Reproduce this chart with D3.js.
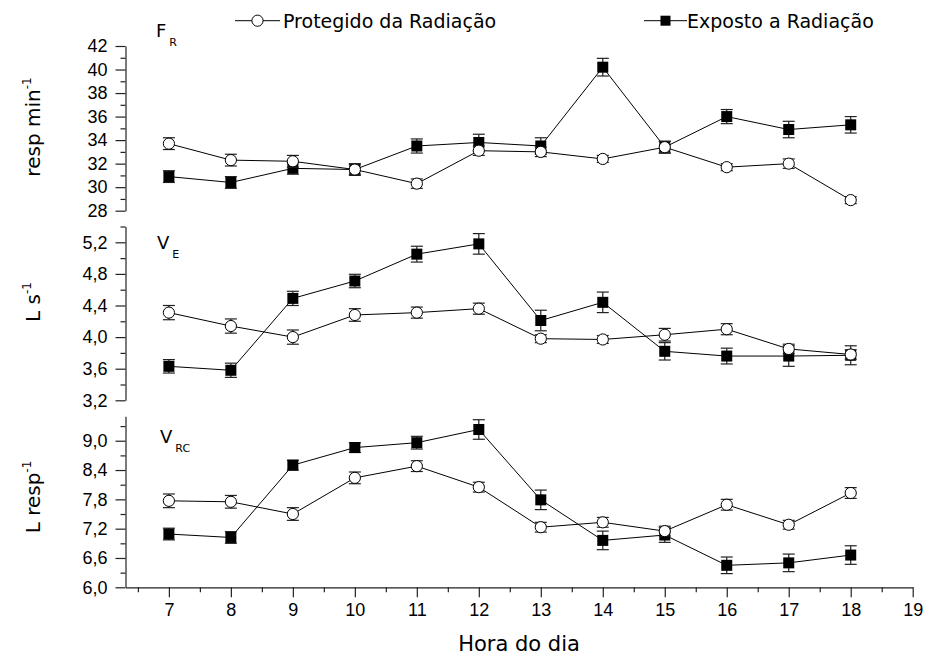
<!DOCTYPE html>
<html>
<head>
<meta charset="utf-8">
<script src="https://cdn.jsdelivr.net/npm/d3@7"></script>
<style>
  body { margin: 0; background: #fff; }
  svg { display: block; font-family: "DejaVu Sans", Arial, sans-serif; }
</style>
</head>
<body>
<script>
// hours of the day
const hours = [7, 8, 9, 10, 11, 12, 13, 14, 15, 16, 17, 18];

// F_R (resp min-1)
const frProt = [33.7, 32.3, 32.2, 31.5, 30.3, 33.1, 33.0, 32.4, 33.4, 31.7, 32.0, 28.9];
const frProtErr = [0.5, 0.5, 0.5, 0.4, 0.4, 0.4, 0.4, 0.3, 0.5, 0.3, 0.4, 0.3];
const frExp = [30.9, 30.4, 31.6, 31.5, 33.5, 33.8, 33.5, 40.2, 33.4, 36.0, 34.9, 35.3];
const frExpErr = [0.5, 0.5, 0.5, 0.5, 0.6, 0.7, 0.7, 0.75, 0.5, 0.6, 0.7, 0.7];

// V_E (L s-1)
const veProt = [4.31, 4.14, 4.00, 4.28, 4.31, 4.36, 3.98, 3.97, 4.03, 4.10, 3.85, 3.78];
const veProtErr = [0.09, 0.09, 0.09, 0.08, 0.07, 0.07, 0.05, 0.05, 0.08, 0.07, 0.06, 0.06];
const veExp = [3.63, 3.58, 4.49, 4.71, 5.05, 5.18, 4.21, 4.44, 3.82, 3.76, 3.76, 3.77];
const veExpErr = [0.085, 0.09, 0.09, 0.085, 0.1, 0.13, 0.13, 0.13, 0.11, 0.1, 0.13, 0.12];

// V_RC (L resp-1)
const vrcProt = [7.77, 7.75, 7.50, 8.24, 8.48, 8.05, 7.23, 7.33, 7.15, 7.69, 7.28, 7.93];
const vrcProtErr = [0.14, 0.13, 0.13, 0.12, 0.11, 0.1, 0.1, 0.1, 0.1, 0.11, 0.09, 0.11];
const vrcExp = [7.09, 7.02, 8.50, 8.86, 8.96, 9.23, 7.79, 6.96, 7.07, 6.45, 6.50, 6.66];
const vrcExpErr = [0.12, 0.12, 0.1, 0.1, 0.13, 0.2, 0.2, 0.19, 0.15, 0.17, 0.18, 0.19];

// tick labels
const xTicks = [7, 8, 9, 10, 11, 12, 13, 14, 15, 16, 17, 18, 19];
const frTicks = [28, 30, 32, 34, 36, 38, 40, 42];
const veTicks = [3.2, 3.6, 4.0, 4.4, 4.8, 5.2];
const vrcTicks = [6.0, 6.6, 7.2, 7.8, 8.4, 9.0];

const seriesNames = ["Protegido da Radiação", "Exposto a Radiação"];

const width = 925, height = 659;
const axisX = 125.5;

const svg = d3.select("body").append("svg")
    .attr("width", width)
    .attr("height", height);

const x = d3.scaleLinear().domain([6.3, 19]).range([axisX, 912.7]);

const comma = d => d.toFixed(1).replace(".", ",");

const panels = [
  { domain: [28, 42], range: [210.7, 46], ticks: frTicks, minor: d3.range(29, 42, 2), fmt: d3.format("d"),
    prot: frProt, protErr: frProtErr, exp: frExp, expErr: frExpErr,
    name: "F", sub: "R", nameX: 156, nameY: 37, unit: "resp min", unitY: 127 },
  { domain: [3.2, 5.4], range: [400.3, 226.5], ticks: veTicks, minor: d3.range(3.4, 5.45, 0.4), fmt: comma,
    prot: veProt, protErr: veProtErr, exp: veExp, expErr: veExpErr,
    name: "V", sub: "E", nameX: 157, nameY: 249, unit: "L s", unitY: 302 },
  { domain: [6.0, 9.5], range: [587.3, 416.3], ticks: vrcTicks, minor: d3.range(6.3, 9.45, 0.6), fmt: comma,
    prot: vrcProt, protErr: vrcProtErr, exp: vrcExp, expErr: vrcExpErr,
    name: "V", sub: "RC", nameX: 160, nameY: 443, unit: "L resp", unitY: 497 }
];

function drawSeries(g, y, vals, errs, marker) {
  const pts = hours.map((h, i) => ({ h: h, v: vals[i], e: errs[i] }));
  g.append("path")
      .datum(pts)
      .attr("fill", "none")
      .attr("stroke", "#000")
      .attr("stroke-width", 1)
      .attr("d", d3.line().x(d => x(d.h)).y(d => y(d.v)));

  const eb = g.append("g").attr("stroke", "#222").attr("stroke-width", 1.2);
  eb.selectAll(".ev").data(pts).join("line")
      .attr("x1", d => x(d.h)).attr("x2", d => x(d.h))
      .attr("y1", d => y(d.v - d.e)).attr("y2", d => y(d.v + d.e));
  eb.selectAll(".ct").data(pts).join("line")
      .attr("x1", d => x(d.h) - 6).attr("x2", d => x(d.h) + 6)
      .attr("y1", d => y(d.v + d.e)).attr("y2", d => y(d.v + d.e));
  eb.selectAll(".cb").data(pts).join("line")
      .attr("x1", d => x(d.h) - 6).attr("x2", d => x(d.h) + 6)
      .attr("y1", d => y(d.v - d.e)).attr("y2", d => y(d.v - d.e));

  if (marker === "circle") {
    g.selectAll(".mk").data(pts).join("circle")
        .attr("cx", d => x(d.h)).attr("cy", d => y(d.v))
        .attr("r", 5.6)
        .attr("fill", "#fff").attr("stroke", "#000").attr("stroke-width", 1);
  } else {
    g.selectAll(".mk").data(pts).join("rect")
        .attr("x", d => x(d.h) - 5.5).attr("y", d => y(d.v) - 5.5)
        .attr("width", 11).attr("height", 11)
        .attr("fill", "#000");
  }
}

panels.forEach((p, idx) => {
  const y = d3.scaleLinear().domain(p.domain).range(p.range);
  const g = svg.append("g");

  // y axis (major + minor)
  const ax = g.append("g")
      .attr("transform", `translate(${axisX},0)`)
      .call(d3.axisLeft(y).tickValues(p.ticks).tickFormat(p.fmt).tickSize(10).tickSizeOuter(0).tickPadding(8));
  ax.selectAll("text").attr("font-size", 18).attr("fill", "#000").attr("font-family", null);
  ax.selectAll("path, line").attr("stroke", "#222").attr("stroke-width", 1.2);
  g.append("g")
      .attr("transform", `translate(${axisX},0)`)
      .call(d3.axisLeft(y).tickValues(p.minor).tickFormat("").tickSize(5).tickSizeOuter(0))
      .call(s => s.select(".domain").remove())
      .selectAll("line").attr("stroke", "#222").attr("stroke-width", 1.2);

  // y title with superscript
  const yt = g.append("text")
      .attr("transform", `translate(40,${p.unitY}) rotate(-90)`)
      .attr("text-anchor", "middle")
      .attr("font-size", 20)
      .attr("fill", "#000");
  yt.append("tspan").text(p.unit);
  yt.append("tspan").attr("dy", "-0.75em").attr("font-size", 12).text("-1");

  // panel label
  const pl = g.append("text")
      .attr("x", p.nameX).attr("y", p.nameY)
      .attr("font-size", 18).attr("fill", "#000");
  pl.append("tspan").text(p.name);
  pl.append("tspan").attr("dx", 3).attr("dy", 9).attr("font-size", 11).text(p.sub);

  drawSeries(g, y, p.exp, p.expErr, "square");
  drawSeries(g, y, p.prot, p.protErr, "circle");

  // x axis only on the last panel
  if (idx === panels.length - 1) {
    const xa = g.append("g")
        .attr("transform", `translate(0,${p.range[0]})`)
        .call(d3.axisBottom(x).tickValues(xTicks).tickFormat(d3.format("d")).tickSize(10).tickSizeOuter(0).tickPadding(6));
    xa.selectAll("text").attr("font-size", 18).attr("fill", "#000").attr("font-family", null);
    xa.selectAll("path, line").attr("stroke", "#222").attr("stroke-width", 1.2);
    g.append("g")
        .attr("transform", `translate(0,${p.range[0]})`)
        .call(d3.axisBottom(x).tickValues(d3.range(6.5, 19, 1)).tickFormat("").tickSize(5).tickSizeOuter(0))
        .call(s => s.select(".domain").remove())
        .selectAll("line").attr("stroke", "#222").attr("stroke-width", 1.2);
  }
});

// x title
svg.append("text")
    .attr("x", 519).attr("y", 651)
    .attr("text-anchor", "middle")
    .attr("font-size", 21)
    .attr("fill", "#000")
    .text("Hora do dia");

// legend
const legend = svg.append("g");
const leg = [
  { name: seriesNames[0], x1: 235, x2: 280, text: 283, marker: "circle" },
  { name: seriesNames[1], x1: 644, x2: 687, text: 687, marker: "square" }
];
leg.forEach(l => {
  const cx = (l.x1 + l.x2) / 2;
  legend.append("line")
      .attr("x1", l.x1).attr("x2", l.x2).attr("y1", 20.7).attr("y2", 20.7)
      .attr("stroke", "#000").attr("stroke-width", 1);
  if (l.marker === "circle") {
    legend.append("circle").attr("cx", cx).attr("cy", 20.7).attr("r", 5.6)
        .attr("fill", "#fff").attr("stroke", "#000");
  } else {
    legend.append("rect").attr("x", cx - 5).attr("y", 15.7).attr("width", 10).attr("height", 10)
        .attr("fill", "#000");
  }
  legend.append("text")
      .attr("x", l.text).attr("y", 28)
      .attr("font-size", 19).attr("fill", "#000")
      .text(l.name);
});
</script>
</body>
</html>
